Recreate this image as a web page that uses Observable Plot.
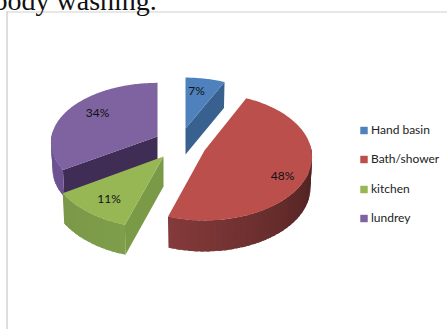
<!DOCTYPE html>
<html>
<head>
<meta charset="utf-8">
<script src="https://cdn.jsdelivr.net/npm/d3@7"></script>
<script src="https://cdn.jsdelivr.net/npm/@observablehq/plot@0.6"></script>
<style>
  html, body { margin: 0; padding: 0; background: #fff; }
  svg { display: block; }
</style>
</head>
<body>
<div id="chart"></div>
<script>
// Household water use by fixture
const categories = ["Hand basin", "Bath/shower", "kitchen", "lundrey"];
const shares = [7, 48, 11, 34];
const topColors = ["#4f81bd", "#bb4f4c", "#97b755", "#7f62a0"];
const heading = "body washing.";

// Exploded slice placement: apex, radii, extrusion and side shading
const W = 447, H = 329, tilt = 0.1;
const placement = [
  {cx: 185, cy: 128, a: 100, b: 56, depth: 26, cut: 1, cutColor: "#39618f", wall: ["#39618f", "#39618f"]},
  {cx: 204, cy: 150, a: 107, b: 63, depth: 31, cut: null, wall: ["#471e1e", "#853a3a"]},
  {cx: 163, cy: 156, a: 113, b: 65, depth: 30, cut: 0, cutColor: "#7a9a47", wall: ["#7f9e4a", "#7a9848"]},
  {cx: 157, cy: 136, a: 106, b: 59, depth: 27, cut: 0, cutColor: "#3f2d55", wall: ["#6c5290", "#6c5290"]}
];
const labelSpots = [[196, 91], [282, 176], [108.5, 198.5], [97, 113]];
const legendX = 363.5, legendTextX = 370.5, legendY = [130, 159, 189, 218];

const rad = Math.PI / 180;
function project(p, deg, drop = 0) {
  const t = deg * rad, w = 1 + tilt * Math.cos(t), s = drop ? 0.985 : 1;
  return {x: p.cx + p.a * s * Math.sin(t) / w, y: p.cy - p.b * Math.cos(t) / w + drop};
}

// Turn each share into swept angles, then into fill polygons
let sum = 0;
const total = d3.sum(shares);
const sweeps = shares.map(v => {
  const from = sum / total * 360;
  sum += v;
  return [from, sum / total * 360];
});

const polys = [];
let polyId = 0;
function addPoly(points, c) {
  const z = polyId++;
  points.forEach(q => polys.push({x: q.x, y: q.y, z, c}));
}

// Purple sits behind green, so it is painted before it
[3, 2, 0, 1].forEach(i => {
  const p = placement[i], [from, to] = sweeps[i];
  const apex = {x: p.cx, y: p.cy};

  // Cut face between the apex and the rim
  if (p.cut !== null) {
    const deg = p.cut ? to : from;
    const bump = project(p, deg), low = project(p, deg, p.depth);
    addPoly([apex, bump, low, {x: p.cx, y: p.cy + p.depth}], p.cutColor);
  }

  // Outer rim, in narrow overlapping strips so that the shading can run along it
  const lo = Math.max(from, 85), hi = Math.min(to, 275);
  if (hi > lo) {
    const mix = d3.interpolateRgb(p.wall[0], p.wall[1]);
    const steps = Math.ceil((hi - lo) / 3);
    for (let k = 0; k < steps; k++) {
      const d0 = lo + (hi - lo) * k / steps;
      const d1 = Math.min(hi, lo + (hi - lo) * (k + 1) / steps + 2);
      addPoly([project(p, d0), project(p, d1), project(p, d1, p.depth), project(p, d0, p.depth)], mix((k + 0.5) / steps));
    }
  }

  // Top face
  const top = [apex];
  const n = Math.ceil(to - from);
  for (let k = 0; k <= n; k++) top.push(project(p, from + (to - from) * k / n));
  addPoly(top, topColors[i]);
});

const pieLabels = shares.map((v, i) => ({text: `${v}%`, x: labelSpots[i][0], y: labelSpots[i][1]}));
const legendRows = categories.map((name, i) => ({name, y: legendY[i], c: topColors[i]}));
const uiFont = "Lato, 'Open Sans', sans-serif";

const chart = Plot.plot({
  width: W,
  height: H,
  margin: 0,
  style: {background: "#fff"},
  x: {domain: [0, W], range: [0, W], axis: null},
  y: {domain: [0, H], range: [0, H], axis: null},
  color: {type: "identity"},
  marks: [
    // Chart frame
    Plot.ruleY([11.5], {x1: 6.5, x2: W, stroke: "#cfcfcf"}),
    Plot.ruleX([6.5], {y1: 11.5, y2: H, stroke: "#bdbdbd"}),
    Plot.text([heading], {
      x: [-7], y: [5], text: d => d, textAnchor: "start", lineAnchor: "bottom",
      fontFamily: "'Liberation Serif', serif", fontSize: 28, fill: "#111", dy: 4
    }),
    Plot.line(polys, {x: "x", y: "y", z: "z", fill: d => d.c, stroke: "none", curve: "linear-closed"}),
    Plot.text(pieLabels, {x: "x", y: "y", text: "text", fontFamily: uiFont, fontSize: 12, fill: "#111"}),
    Plot.dot(legendRows, {x: () => legendX, y: "y", symbol: "square", r: 4.2, fill: d => d.c, stroke: "none"}),
    Plot.text(legendRows, {x: () => legendTextX, y: "y", text: "name", textAnchor: "start", fontFamily: uiFont, fontSize: 12, fill: "#222"})
  ]
});
document.getElementById("chart").append(chart);
</script>
</body>
</html>
